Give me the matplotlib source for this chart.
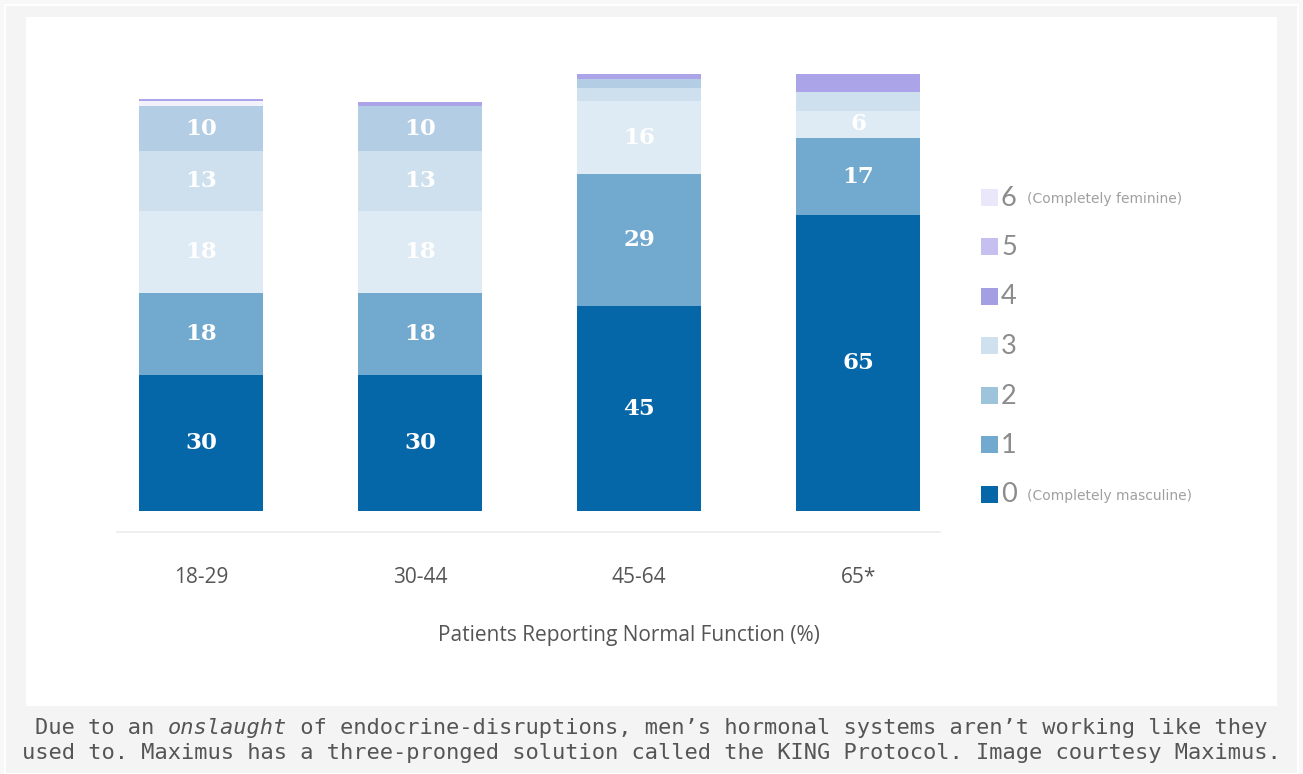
import matplotlib
matplotlib.use("Agg")
import matplotlib.pyplot as plt
from matplotlib.patches import Rectangle
import numpy as np

# ---- data -------------------------------------------------------------
age_groups = ["18-29", "30-44", "45-64", "65*"]

# stacked scores per age group, bottom (0) to top (6)
score_0 = [30, 30, 45, 65]
score_1 = [18, 18, 29, 17]
score_2 = [18, 18, 16, 6]
score_3 = [13, 13, 3, 4]
score_4 = [10, 10, 2, 0]
score_5 = [1, 0, 0, 0]
score_6 = [0.6, 0.8, 1, 4]

segment_colors = ["#0567a8", "#72a9cf", "#dfebf4", "#cee0ed",
                  "#b3cde4", "#f3f2fc", "#aca4e8"]

legend_digits = ["6", "5", "4", "3", "2", "1", "0"]
legend_notes = ["(Completely feminine)", "", "", "", "", "", "(Completely masculine)"]
legend_colors = ["#e9e7f9", "#c5c0f0", "#a49ee3", "#cfe1ee",
                 "#9ec4dc", "#72a9ce", "#0567a8"]

x_title = "Patients Reporting Normal Function (%)"
caption_lines = [
    ["Due to an ", ("onslaught", "italic"),
     " of endocrine-disruptions, men\u2019s hormonal systems aren\u2019t working like they"],
    ["used to. Maximus has a three-pronged solution called the KING Protocol. Image courtesy Maximus."],
]

# ---- figure -----------------------------------------------------------
W, H = 1303, 774
fig = plt.figure(figsize=(W / 100, H / 100), dpi=100, facecolor="#f8f8f8")


def fx(px):
    return px / W


def fy(py):
    return 1 - py / H


# page frame and white chart panel
fig.add_artist(Rectangle((fx(5), fy(774)), fx(1298) - fx(5), fy(5) - fy(774),
                         transform=fig.transFigure, facecolor="#f4f4f4",
                         edgecolor="white", linewidth=1.5, zorder=0))
fig.add_artist(Rectangle((fx(26), fy(706)), fx(1277) - fx(26), fy(17) - fy(706),
                         transform=fig.transFigure, facecolor="white",
                         edgecolor="none", zorder=0))

ax = fig.add_axes([fx(117), fy(532), fx(940) - fx(117), fy(60) - fy(532)])
ax.set_facecolor("none")

series = [score_0, score_1, score_2, score_3, score_4, score_5, score_6]
x = np.arange(len(age_groups))
bottom = np.zeros(len(age_groups))
bar_w = 0.566
for vals, col in zip(series, segment_colors):
    vals = np.asarray(vals, dtype=float)
    ax.bar(x, vals, bar_w, bottom=bottom, color=col, edgecolor="none", zorder=2)
    for xi, v, b in zip(x, vals, bottom):
        if v >= 5:
            ax.text(xi, b + v / 2, f"{v:g}", ha="center", va="center",
                    color="white", fontsize=16.5, fontweight="bold",
                    family="DejaVu Serif", zorder=3)
    bottom += vals

ax.set_xlim(-0.384, 3.374)
ax.set_ylim(-4.6, 99.1)
for side in ["top", "right", "left"]:
    ax.spines[side].set_visible(False)
ax.spines["bottom"].set_color("#ececec")
ax.spines["bottom"].set_linewidth(1.2)
ax.set_yticks([])
ax.set_xticks(x)
ax.set_xticklabels(age_groups, family="Open Sans", fontsize=15, color="#555555")
ax.tick_params(axis="x", length=0, pad=25)

fig.text(fx(629), fy(635), x_title, ha="center", va="center",
         family="Open Sans", fontsize=15, color="#555555")

# ---- legend -------------------------------------------------------------
for i, (d, note, col) in enumerate(zip(legend_digits, legend_notes, legend_colors)):
    yc = 197 + i * 49.5
    fig.add_artist(Rectangle((fx(981), fy(yc + 8.5)), fx(17), 17 / H,
                             transform=fig.transFigure, facecolor=col,
                             edgecolor="none"))
    fig.text(fx(1001), fy(yc + 1), d, ha="left", va="center",
             family="Lato", fontsize=19.5, color="#8c8c8c")
    if note:
        fig.text(fx(1027), fy(yc + 2), note, ha="left", va="center",
                 family="DejaVu Sans", fontsize=10, color="#a0a0a0")

# ---- caption (monospace, so pieces can be placed by character count) -----
cap_size = 15.85
adv = 13.25
for row, pieces in enumerate(caption_lines):
    n = sum(len(p if isinstance(p, str) else p[0]) for p in pieces)
    start = 651 - n * adv / 2
    yc = 728 + row * 25
    pos = 0
    for p in pieces:
        txt, style = (p, "normal") if isinstance(p, str) else p
        fig.text(fx(start + pos * adv), fy(yc), txt, ha="left", va="center",
                 family="DejaVu Sans Mono", style=style,
                 fontsize=cap_size, color="#555555")
        pos += len(txt)

fig.savefig("out.png", dpi=100, facecolor=fig.get_facecolor())
